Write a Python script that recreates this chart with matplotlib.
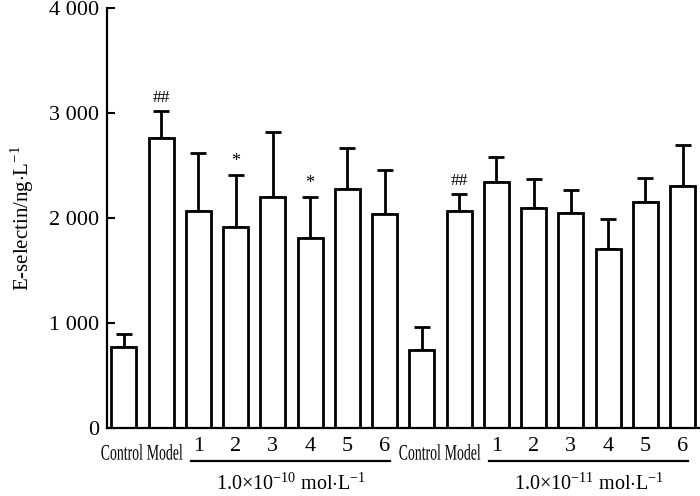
import numpy as np
import matplotlib
matplotlib.use("Agg")
import matplotlib.pyplot as plt
from matplotlib.transforms import blended_transform_factory, Affine2D
from matplotlib.textpath import TextPath
from matplotlib.patches import PathPatch
from matplotlib.font_manager import FontProperties

plt.rcParams['font.family'] = ['Liberation Serif', 'DejaVu Serif']
plt.rcParams['mathtext.fontset'] = 'custom'
plt.rcParams['mathtext.rm'] = 'Liberation Serif'

labels = ["Control", "Model", "1", "2", "3", "4", "5", "6",
          "Control", "Model", "1", "2", "3", "4", "5", "6"]
means = [771, 2762, 2067, 1914, 2200, 1810, 2276, 2038,
         743, 2067, 2343, 2095, 2048, 1705, 2152, 2305]
err_top = [895, 3019, 2619, 2410, 2819, 2200, 2667, 2457,
           962, 2229, 2581, 2371, 2267, 1990, 2381, 2695]
marks = {1: "##", 3: "*", 5: "*", 9: "##"}
groups = [(2, 7, r"1.0$\times$10$^{-10}$ mol$\cdot$L$^{-1}$"),
          (10, 15, r"1.0$\times$10$^{-11}$ mol$\cdot$L$^{-1}$")]
yticks = [0, 1000, 2000, 3000, 4000]
ytick_labels = ["0", "1 000", "2 000", "3 000", "4 000"]

means = np.array(means)
sd = np.array(err_top) - means
x = np.arange(len(means))

DPI = 100
fig = plt.figure(figsize=(7, 4.96), dpi=DPI)
ax = fig.add_axes([0.153, 0.137, 0.846, 0.847])

ax.bar(x, means, width=0.67, color="white", edgecolor="black", linewidth=2.0,
       zorder=2)
ax.errorbar(x, means, yerr=[np.zeros_like(sd), sd], fmt="none", ecolor="black",
            elinewidth=2.0, capsize=6, capthick=2.0, zorder=1)

for i, m in marks.items():
    fs = 12.5 if m == "##" else 13
    ax.text(x[i], err_top[i] + 50, m, ha="center", va="bottom", fontsize=fs)

ax.set_xlim(-0.45, len(means) - 0.55)
ax.set_ylim(0, 4000)
ax.set_yticks(yticks)
ax.set_yticklabels(ytick_labels, fontsize=16)
ax.tick_params(axis="y", direction="in", length=6, width=1.5, pad=6)
ax.set_xticks([])
for s in ["top", "right"]:
    ax.spines[s].set_visible(False)
for s in ["left", "bottom"]:
    ax.spines[s].set_linewidth(1.6)

ax.set_ylabel(r"E-selectin/ng$\cdot$L$^{-1}$", fontsize=15, labelpad=9)

trans = blended_transform_factory(ax.transData, ax.transAxes)


def narrow_text(xd, ya, s, size, squeeze):
    # condensed label drawn as a path, squeezed horizontally
    tp = TextPath((0, 0), s, size=size, prop=FontProperties(family="Liberation Serif"))
    bb = tp.get_extents()
    px, py = trans.transform((xd, ya))
    k = DPI / 72.0
    tr = (Affine2D().translate(-(bb.x0 + bb.x1) / 2, -(bb.y0 + bb.y1) / 2)
          .scale(squeeze * k, k).translate(px, py))
    ax.add_artist(PathPatch(tp, transform=tr, facecolor="black",
                            edgecolor="none", clip_on=False))


for i, lab in enumerate(labels):
    if lab.isdigit():
        ax.text(x[i], -0.043, lab, transform=trans, ha="center", va="center",
                fontsize=16, clip_on=False)
    else:
        shift = -0.05 if lab == "Control" else 0.1
        narrow_text(x[i] + shift, -0.057, lab, 16, 0.62)

for a, b, txt in groups:
    ax.plot([a - 0.2, b + 0.15], [-0.079, -0.079], color="black", lw=1.6,
            transform=trans, clip_on=False)
    ax.text((a + b) / 2, -0.133, txt, transform=trans, ha="center",
            va="center", fontsize=14.5, clip_on=False)

fig.savefig("out.png", dpi=DPI)
